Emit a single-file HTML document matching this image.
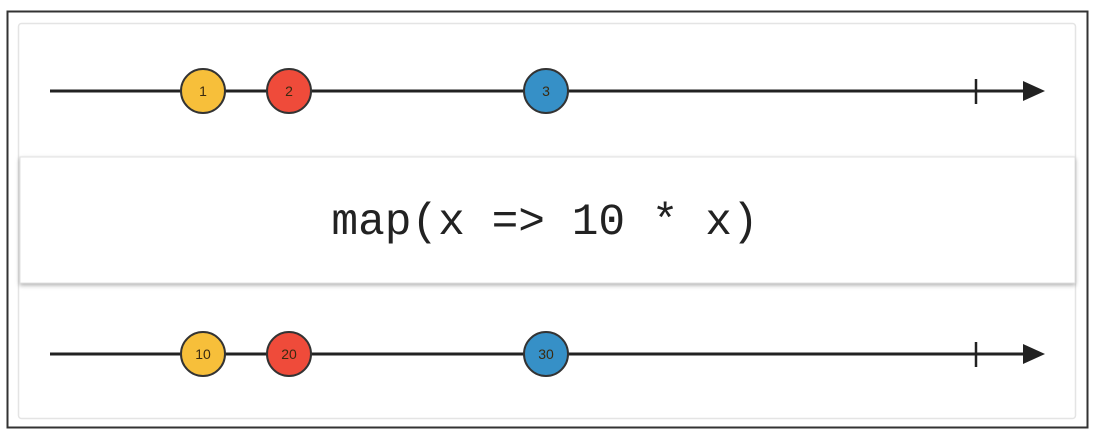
<!DOCTYPE html>
<html><head><style>body{margin:0;background:#fff;}svg{display:block}</style></head>
<body>
<svg width="1098" height="438" xmlns="http://www.w3.org/2000/svg">
<defs>
<filter id="sh" x="-5%" y="-20%" width="110%" height="140%"><feDropShadow dx="0" dy="2" stdDeviation="2" flood-color="#000" flood-opacity="0.3"/></filter>
</defs>
<rect x="7.5" y="11.5" width="1080" height="416" fill="#fff" stroke="#333" stroke-width="2"/>
<rect x="18.5" y="23.5" width="1057" height="395" fill="#fff" stroke="#e4e4e4" stroke-width="1.5" rx="3"/>
<rect x="20" y="157" width="1055" height="126" fill="#fff" stroke="#e0e0e0" filter="url(#sh)"/>
<text x="545" y="234" text-anchor="middle" font-family="Liberation Mono, monospace" font-size="44.5" fill="#222">map(x =&gt; 10 * x)</text>
<g stroke="#222" stroke-width="3">
<line x1="50" y1="91" x2="1028" y2="91"/><line x1="976" y1="79" x2="976" y2="104" stroke-width="2.5"/>
<line x1="50" y1="354" x2="1028" y2="354"/><line x1="976" y1="342" x2="976" y2="367" stroke-width="2.5"/>
</g>
<polygon points="1023,81 1045,91 1023,101" fill="#222"/>
<polygon points="1023,344 1045,354 1023,364" fill="#222"/>
<g stroke="#333" stroke-width="2" font-family="Liberation Sans, sans-serif" font-size="14" text-anchor="middle">
<circle cx="203" cy="91" r="22" fill="#f7bf3a"/><circle cx="289" cy="91" r="22" fill="#ef4b3a"/><circle cx="546" cy="91" r="22" fill="#3690c7"/>
<circle cx="203" cy="354" r="22" fill="#f7bf3a"/><circle cx="289" cy="354" r="22" fill="#ef4b3a"/><circle cx="546" cy="354" r="22" fill="#3690c7"/>
<g stroke="none" fill="#3a2a10">
<text x="203" y="96">1</text><text x="289" y="96">2</text><text x="546" y="96">3</text>
<text x="203" y="359">10</text><text x="289" y="359">20</text><text x="546" y="359">30</text>
</g></g>
</svg>
</body></html>
